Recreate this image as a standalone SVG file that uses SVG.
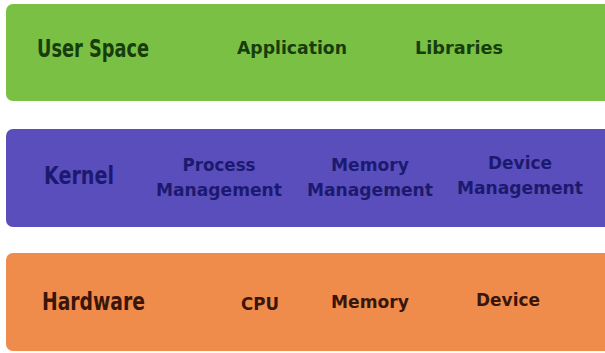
<svg xmlns="http://www.w3.org/2000/svg" width="605" height="353" viewBox="0 0 605 353">
<style>
.band{stroke:none}
.title{font-family:"DejaVu Sans Condensed","DejaVu Sans",sans-serif;font-weight:bold;font-size:24px}
.item{font-family:"DejaVu Sans","Noto Sans",sans-serif;font-weight:bold;font-size:17.5px;text-anchor:middle}
.g{fill:#173d0c}
.b{fill:#1c1a6e}
.o{fill:#3a160a}
</style>
<rect width="605" height="353" fill="#ffffff"/>
<g id="user-space">
<rect class="band" x="6" y="4" width="610" height="97" rx="7" fill="#79c045"/>
<text class="title g" x="37" y="57" textLength="112" lengthAdjust="spacingAndGlyphs">User Space</text>
<text class="item g" x="292" y="54" textLength="110" lengthAdjust="spacingAndGlyphs">Application</text>
<text class="item g" x="459" y="54" textLength="88" lengthAdjust="spacingAndGlyphs">Libraries</text>
</g>
<g id="kernel">
<rect class="band" x="6" y="129" width="610" height="98" rx="7" fill="#5a4ebd"/>
<text class="title b" x="44" y="184" textLength="70" lengthAdjust="spacingAndGlyphs">Kernel</text>
<text class="item b" x="219" y="171" textLength="73" lengthAdjust="spacingAndGlyphs">Process</text>
<text class="item b" x="219" y="196" textLength="126" lengthAdjust="spacingAndGlyphs">Management</text>
<text class="item b" x="370" y="171" textLength="78" lengthAdjust="spacingAndGlyphs">Memory</text>
<text class="item b" x="370" y="196" textLength="126" lengthAdjust="spacingAndGlyphs">Management</text>
<text class="item b" x="520" y="169" textLength="64" lengthAdjust="spacingAndGlyphs">Device</text>
<text class="item b" x="520" y="194" textLength="126" lengthAdjust="spacingAndGlyphs">Management</text>
</g>
<g id="hardware">
<rect class="band" x="6" y="253" width="610" height="98" rx="7" fill="#f08c4b"/>
<text class="title o" x="42" y="310" textLength="103" lengthAdjust="spacingAndGlyphs">Hardware</text>
<text class="item o" x="260" y="310" textLength="38" lengthAdjust="spacingAndGlyphs">CPU</text>
<text class="item o" x="370" y="308" textLength="78" lengthAdjust="spacingAndGlyphs">Memory</text>
<text class="item o" x="508" y="306" textLength="64" lengthAdjust="spacingAndGlyphs">Device</text>
</g>
<g id="connectors"></g>
</svg>
